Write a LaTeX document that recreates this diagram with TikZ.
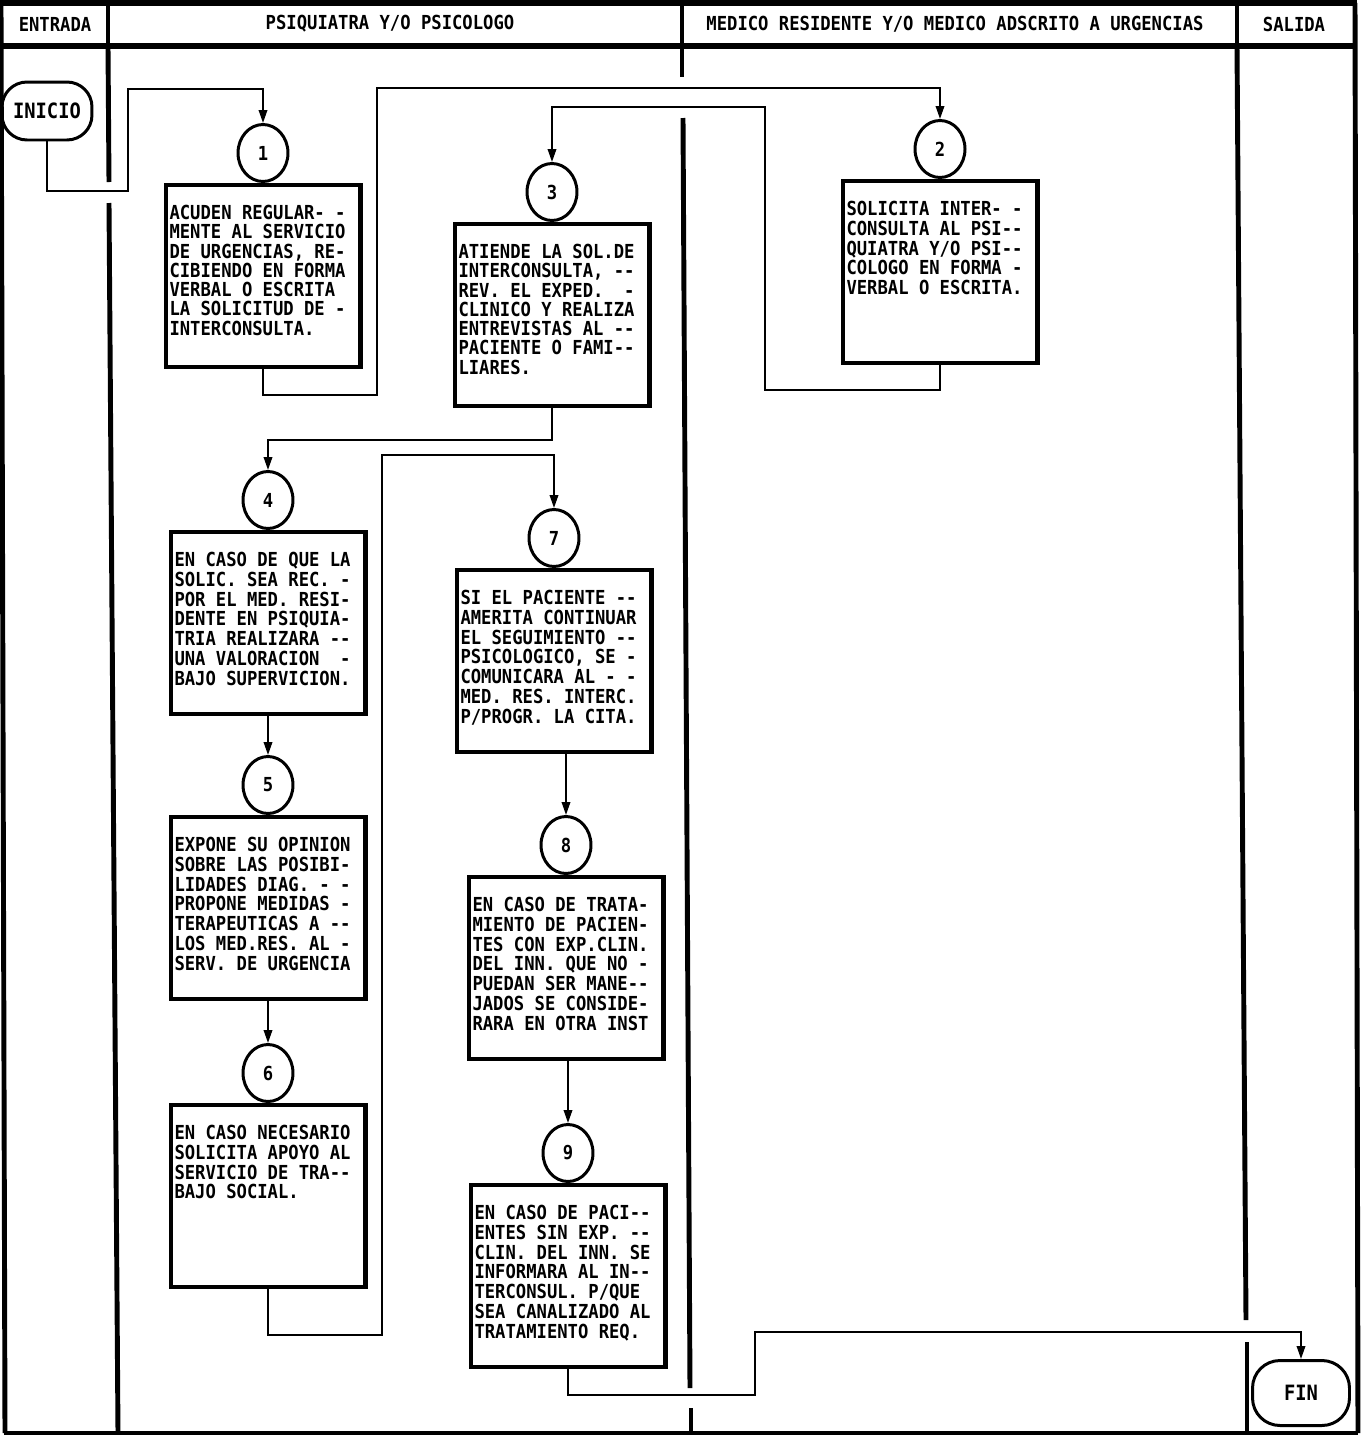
\documentclass[tikz,border=0pt]{standalone}
\usepackage{fontspec}
\newfontfamily\flowfont[FakeStretch=0.89,Ligatures=TeXOff]{DejaVu Sans Mono}
\usetikzlibrary{positioning,arrows.meta,shapes.geometric}
\tikzset{
  stepbox/.style={draw, line width=2.3pt, minimum width=3.88cm, minimum height=3.64cm,
    inner sep=0.08cm, fill=white},
  stepnum/.style={ellipse, draw, line width=1.7pt, minimum width=1.0cm, minimum height=1.14cm,
    inner sep=0pt, fill=white, font=\flowfont\bfseries\fontsize{11pt}{13pt}\selectfont},
  termbox/.style={draw, line width=1.7pt, rounded corners=0.5cm, minimum width=1.8cm,
    minimum height=1.16cm, inner sep=2pt, font=\flowfont\bfseries\fontsize{12pt}{14pt}\selectfont},
  flowarrow/.style={-{Triangle[length=2.6mm,width=1.7mm]}, line width=1.1pt},
  laneline/.style={line width=2.8pt},
  headline/.style={line width=3.4pt},
  lanelabel/.style={font=\flowfont\bfseries\fontsize{11pt}{13pt}\selectfont, inner sep=1pt},
}
\newcommand{\flowtext}[2][11.3pt]{\parbox[c][3.44cm][t]{3.74cm}{\flowfont\bfseries\fontsize{11pt}{#1}\selectfont
  \frenchspacing\raggedright\lineskiplimit=-\maxdimen\vspace*{0.3cm}\noindent #2}}

\begin{document}
\begin{tikzpicture}[x=0.02cm, y=-0.02cm]
  \useasboundingbox (0,0) rectangle (1362,1437);

  % marco y encabezado
  \draw[headline] (0,3) -- (1357,3);
  \draw[headline] (0,46) -- (1357,46);
  \draw[laneline] (1,3) -- (5,1433);
  \draw[laneline] (1355,3) -- (1358,1433);
  \draw[laneline] (4,1433) -- (1358,1433);
  \draw[laneline] (108,3) -- (108,46);
  \draw[laneline] (682,3) -- (682,46);
  \draw[laneline] (1237,3) -- (1237,46);
  \node[lanelabel] (hin) at (55,24) {ENTRADA};
  \node[lanelabel] (hpsi) at (390,24) {PSIQUIATRA Y/O PSICOLOGO};
  \node[lanelabel] (hmed) at (955,24) {MEDICO RESIDENTE Y/O MEDICO ADSCRITO A URGENCIAS};
  \node[lanelabel] (hout) at (1294,24) {SALIDA};

  % divisiones de carriles
  \draw[laneline] (108,46) -- (109,182);
  \draw[laneline] (109,203) -- (118,1433);
  \draw[laneline] (682,46) -- (682,77);
  \draw[laneline] (683,118) -- (690,1388);
  \draw[laneline] (691,1408) -- (691,1433);
  \draw[laneline] (1237,46) -- (1246,1320);
  \draw[laneline] (1247,1342) -- (1247,1433);

  % terminales
  \node[termbox] (inicio) at (47,111) {INICIO};
  \node[termbox, minimum width=1.94cm, minimum height=1.3cm, rounded corners=0.55cm] (fin) at (1301,1393) {FIN};

  % pasos
  \node[stepnum] (c1) at (263,153) {1};
  \node[stepbox, below=0pt of c1] (b1) {\flowtext[11pt]{ACUDEN REGULAR- -\\MENTE AL SERVICIO\\DE URGENCIAS, RE-\\CIBIENDO EN FORMA\\VERBAL O ESCRITA\\LA SOLICITUD DE -\\INTERCONSULTA.}};
  \node[stepnum] (c2) at (940,149) {2};
  \node[stepbox, below=0pt of c2] (b2) {\flowtext{SOLICITA INTER- -\\CONSULTA AL PSI--\\QUIATRA Y/O PSI--\\COLOGO EN FORMA -\\VERBAL O ESCRITA.}};
  \node[stepnum] (c3) at (552,192) {3};
  \node[stepbox, below=0pt of c3] (b3) {\flowtext[11pt]{ATIENDE LA SOL.DE\\INTERCONSULTA, --\\REV. EL EXPED.~~-\\CLINICO Y REALIZA\\ENTREVISTAS AL --\\PACIENTE O FAMI--\\LIARES.}};
  \node[stepnum] (c4) at (268,500) {4};
  \node[stepbox, below=0pt of c4] (b4) {\flowtext{EN CASO DE QUE LA\\SOLIC. SEA REC. -\\POR EL MED. RESI-\\DENTE EN PSIQUIA-\\TRIA REALIZARA --\\UNA VALORACION~~-\\BAJO SUPERVICION.}};
  \node[stepnum] (c5) at (268,785) {5};
  \node[stepbox, below=0pt of c5] (b5) {\flowtext{EXPONE SU OPINION\\SOBRE LAS POSIBI-\\LIDADES DIAG. - -\\PROPONE MEDIDAS -\\TERAPEUTICAS A --\\LOS MED.RES. AL -\\SERV. DE URGENCIA}};
  \node[stepnum] (c6) at (268,1073) {6};
  \node[stepbox, below=0pt of c6] (b6) {\flowtext{EN CASO NECESARIO\\SOLICITA APOYO AL\\SERVICIO DE TRA--\\BAJO SOCIAL.}};
  \node[stepnum] (c7) at (554,538) {7};
  \node[stepbox, below=0pt of c7] (b7) {\flowtext{SI EL PACIENTE --\\AMERITA CONTINUAR\\EL SEGUIMIENTO --\\PSICOLOGICO, SE -\\COMUNICARA AL - -\\MED. RES. INTERC.\\P/PROGR. LA CITA.}};
  \node[stepnum] (c8) at (566,845) {8};
  \node[stepbox, below=0pt of c8] (b8) {\flowtext{EN CASO DE TRATA-\\MIENTO DE PACIEN-\\TES CON EXP.CLIN.\\DEL INN. QUE NO -\\PUEDAN SER MANE--\\JADOS SE CONSIDE-\\RARA EN OTRA INST}};
  \node[stepnum] (c9) at (568,1153) {9};
  \node[stepbox, below=0pt of c9] (b9) {\flowtext{EN CASO DE PACI--\\ENTES SIN EXP. --\\CLIN. DEL INN. SE\\INFORMARA AL IN--\\TERCONSUL. P/QUE\\SEA CANALIZADO AL\\TRATAMIENTO REQ.}};

  % conexiones
  \draw[flowarrow] (inicio.south) |- (128,191) -- (128,89) -| (c1.north);
  \draw[flowarrow] (b1.south) |- (377,395) -- (377,88) -| (c2.north);
  \draw[flowarrow] (b2.south) |- (765,390) -- (765,107) -| (c3.north);
  \draw[flowarrow] (b3.south) -- ++(0,32) -| (c4.north);
  \draw[flowarrow] (b4) -- (c5);
  \draw[flowarrow] (b5) -- (c6);
  \draw[flowarrow] (b6.south) |- (382,1335) -- (382,455) -| (c7.north);
  \draw[flowarrow] (c8.north |- b7.south) -- (c8.north);
  \draw[flowarrow] (c9.north |- b8.south) -- (c9.north);
  \draw[flowarrow] (b9.south) |- (755,1395) -- (755,1332) -| (fin.north);
\end{tikzpicture}
\end{document}
